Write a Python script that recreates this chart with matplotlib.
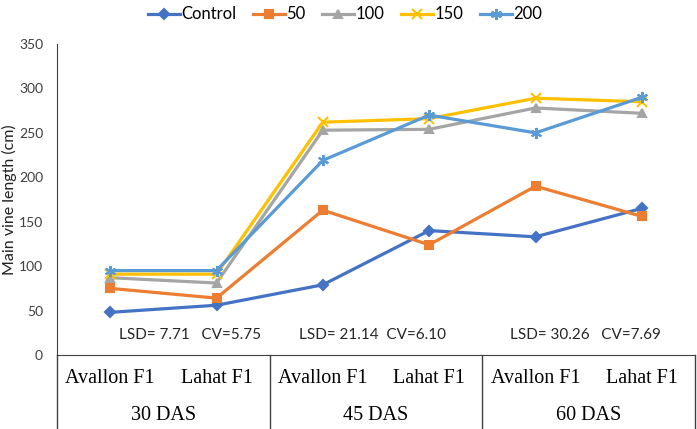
import matplotlib
matplotlib.use("Agg")
import matplotlib.pyplot as plt

# values
categories = ["Avallon F1", "Lahat F1", "Avallon F1", "Lahat F1", "Avallon F1", "Lahat F1"]
groups = ["30 DAS", "45 DAS", "60 DAS"]
series_names = ["Control", "50", "100", "150", "200"]
control = [48, 56, 79, 140, 133, 165]
n50 = [75, 64, 163, 124, 190, 156]
n100 = [87, 81, 253, 254, 278, 272]
n150 = [91, 91, 262, 266, 289, 285]
n200 = [95, 95, 219, 270, 250, 290]
stats = ["LSD= 7.71   CV=5.75", "LSD= 21.14  CV=6.10", "LSD= 30.26   CV=7.69"]
yticks = [0, 50, 100, 150, 200, 250, 300, 350]

colors = ["#4472C4", "#ED7D31", "#A5A5A5", "#FFC000", "#5B9BD5"]
markers = ["D", "s", "^", "x", (6, 2, 0)]
msizes = [5, 6, 6, 7, 8]

plt.rcParams['font.family'] = ['Lato', 'DejaVu Sans']

fig = plt.figure(figsize=(6.97, 4.29), dpi=100)
ax = fig.add_axes([57/697, 1 - 355/429, (695-57)/697, 311/429])

x = list(range(len(categories)))
for vals, name, c, m, ms in zip([control, n50, n100, n150, n200], series_names,
                                 colors, markers, msizes):
    ax.plot(x, vals, color=c, lw=2.3, marker=m, ms=ms, mew=1.5, label=name)

ax.set_xlim(-0.5, 5.5)
ax.set_ylim(0, 350)
ax.set_yticks(yticks)
ax.set_xticks([])
ax.tick_params(axis="y", length=0, pad=10, labelsize=10, labelcolor="#404040")
for s in ["top", "right"]:
    ax.spines[s].set_visible(False)
ax.spines["left"].set_color("#404040")
ax.spines["bottom"].set_color("#404040")
ax.set_ylabel("Main vine length (cm)", fontsize=11.5, color="#222222")
ax.yaxis.set_label_coords(-0.062, 0.5)

# category table under the axis
tr = ax.get_xaxis_transform()
for xv in [-0.5, 1.5, 3.5, 5.5]:
    ax.plot([xv, xv], [0, -0.25], transform=tr, color="#404040", lw=1, clip_on=False)
for i, lab in enumerate(categories):
    ax.text(i, -0.074, lab, transform=tr, ha="center", va="center",
            family="Liberation Serif", fontsize=14.5)
for j, g in enumerate(groups):
    ax.text(2*j + 0.5, -0.193, g, transform=tr, ha="center", va="center",
            family="Liberation Serif", fontsize=14.5)

# LSD / CV notes
for xs, t in zip([0.75, 2.47, 4.47], stats):
    ax.text(xs, 22.5, t, ha="center", va="center", fontsize=11, color="#262626")

fig.legend(loc="upper center", bbox_to_anchor=(0.495, 1.02), ncol=5, frameon=False,
           fontsize=12, handlelength=1.9, columnspacing=1.0, handletextpad=0.1)

fig.savefig("out.png", dpi=100)
